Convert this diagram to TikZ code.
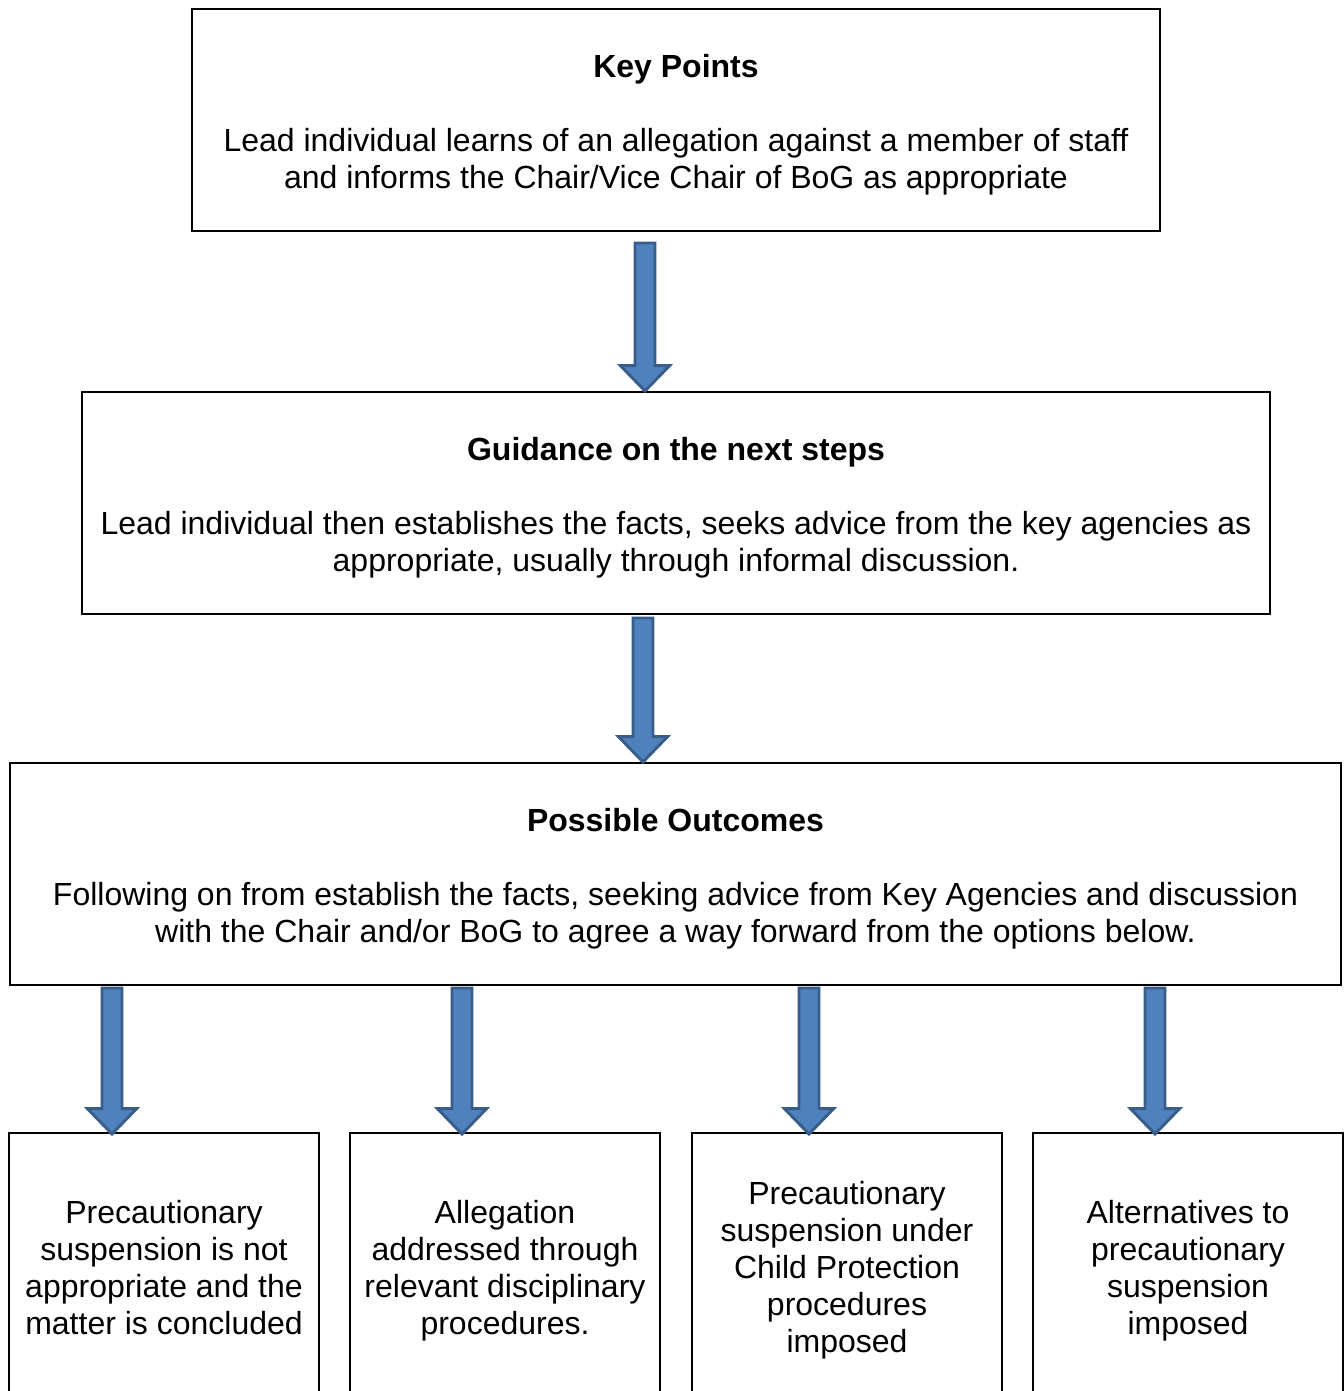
\documentclass[tikz,border=0pt]{standalone}
\usepackage{fontspec}
\setmainfont{Liberation Sans}
\usetikzlibrary{calc}
\definecolor{afill}{HTML}{4F81BD}
\definecolor{aline}{HTML}{385D8A}
\newcommand\topstrut{\rule{0pt}{27.6pt}}
\newcommand\blockarrow[2]{%
  \draw[barrow] let \p1=(#1), \p2=(#2) in
    (\x1-7.5pt,\y1) -- (\x1+7.5pt,\y1) -- (\x1+7.5pt,\y2+19pt) -- (\x1+18.4pt,\y2+19pt)
    -- (\x1,\y2) -- (\x1-18.4pt,\y2+19pt) -- (\x1-7.5pt,\y2+19pt) -- cycle;}
\begin{document}
\begin{tikzpicture}[x=0.75pt,y=-0.75pt,
  box/.style={draw=black,line width=1.5pt,inner sep=0pt,align=center,
    font=\fontsize{24}{27.75}\selectfont},
  barrow/.style={fill=afill,draw=aline,line width=2.2pt,line join=miter}]
\useasboundingbox (0,0) rectangle (1344,1391);
\clip (0,0) rectangle (1344,1391);
\node[box,minimum width=726pt,minimum height=166.5pt] (kp) at (676,120)
  {\topstrut\textbf{Key Points}\\[27.75pt]
   Lead individual learns of an allegation against a member of staff\\
   and informs the Chair/Vice Chair of BoG as appropriate\strut};
\node[box,minimum width=891pt,minimum height=166.5pt] (gd) at (676,503)
  {\topstrut\textbf{Guidance on the next steps}\\[27.75pt]
   Lead individual then establishes the facts, seeks advice from the key agencies as\\
   appropriate, usually through informal discussion.\strut};
\node[box,minimum width=998.25pt,minimum height=166.5pt] (po) at (675.5,874)
  {\topstrut\textbf{Possible Outcomes}\\[27.75pt]
   Following on from establish the facts, seeking advice from Key Agencies and discussion\\
   with the Chair and/or BoG to agree a way forward from the options below.\strut};
\node[box,minimum width=232.5pt,minimum height=199.5pt] (o1) at (164,1266)
  {\topstrut Precautionary\\suspension is not\\appropriate and the\\matter is concluded\strut};
\node[box,minimum width=232.5pt,minimum height=199.5pt] (o2) at (505,1266)
  {\topstrut Allegation\\addressed through\\relevant disciplinary\\procedures.\strut};
\node[box,minimum width=232.5pt,minimum height=199.5pt] (o3) at (847,1266)
  {\topstrut Precautionary\\suspension under\\Child Protection\\procedures\\imposed\strut};
\node[box,minimum width=232.5pt,minimum height=199.5pt] (o4) at (1188,1266)
  {\topstrut Alternatives to\\precautionary\\suspension\\imposed\strut};
\blockarrow{$(kp.south)+(-31,11)$}{$(gd.north)+(-31,0)$}
\blockarrow{$(gd.south)+(-33,3)$}{$(po.north)+(-32.5,0)$}
\blockarrow{$(po.south -| o1.north)+(-52,2)$}{$(o1.north)+(-52,2)$}
\blockarrow{$(po.south -| o2.north)+(-43,2)$}{$(o2.north)+(-43,2)$}
\blockarrow{$(po.south -| o3.north)+(-38,2)$}{$(o3.north)+(-38,2)$}
\blockarrow{$(po.south -| o4.north)+(-33,2)$}{$(o4.north)+(-33,2)$}
\end{tikzpicture}
\end{document}
